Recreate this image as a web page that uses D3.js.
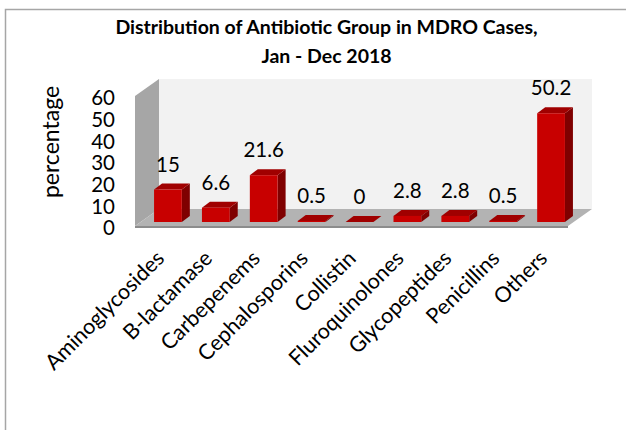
<!DOCTYPE html>
<html>
<head>
<meta charset="utf-8">
<script src="https://cdn.jsdelivr.net/npm/d3@7"></script>
<style>
  html, body { margin: 0; padding: 0; background: #fff; }
  svg { display: block; }
  text { font-family: Lato, "Open Sans", sans-serif; fill: #000; }
</style>
</head>
<body>
<div id="vis"></div>
<script>
var categories = ['Aminoglycosides', 'B-lactamase', 'Carbepenems', 'Cephalosporins', 'Collistin',
  'Fluroquinolones', 'Glycopeptides', 'Penicillins', 'Others'];
var values = [15, 6.6, 21.6, 0.5, 0, 2.8, 2.8, 0.5, 50.2];
var yTicks = [0, 10, 20, 30, 40, 50, 60];
var titleLines = ['Distribution of Antibiotic Group in MDRO Cases,', 'Jan - Dec 2018'];

var width = 626;
var height = 430;
var depthX = 24;   // wall depth
var depthY = 17;
var barDepthX = 8;
var barDepthY = 6;
var barLift = 4;   // bars stand a little behind the front edge of the floor

var svg = d3.select('#vis').append('svg')
  .attr('width', width)
  .attr('height', height);

// outer frame, only top and left are in the picture
svg.append('path')
  .attr('d', 'M5.5,430V9.5H626')
  .attr('fill', 'none')
  .attr('stroke', '#a6a6a6')
  .attr('stroke-width', 1.5);

var x = d3.scaleBand()
  .domain(categories)
  .range([144, 575])
  .paddingInner(0.42)
  .paddingOuter(0.21);

var y = d3.scaleLinear()
  .domain([0, 60])
  .range([226, 96]);

var x0 = 135;
var x1 = 568;
var y0 = y(0);
var yTop = y(60);

// back wall, side wall, floor
var walls = svg.append('g');
walls.append('polygon')
  .attr('points', [[x0 + depthX, yTop - depthY], [x1 + depthX, yTop - depthY], [x1 + depthX, y0 - depthY], [x0 + depthX, y0 - depthY]].join(' '))
  .attr('fill', '#f2f2f2');
walls.append('polygon')
  .attr('points', [[x0, yTop], [x0 + depthX, yTop - depthY], [x0 + depthX, y0 - depthY], [x0, y0]].join(' '))
  .attr('fill', '#a6a6a6');
walls.append('polygon')
  .attr('points', [[x0, y0], [x0 + depthX, y0 - depthY], [x1 + depthX, y0 - depthY], [x1, y0]].join(' '))
  .attr('fill', '#b3b3b3');
walls.append('rect')
  .attr('x', x0).attr('y', y0)
  .attr('width', x1 - x0).attr('height', 2)
  .attr('fill', '#8c8c8c');

// bars: side, top, front
var bars = svg.selectAll('.bar')
  .data(categories)
  .enter()
  .append('g')
  .attr('class', 'bar');

function barTop(d, i) { return y(values[i]) - barLift; }
function barBottom() { return y(0) - barLift; }

bars.append('polygon')
  .attr('fill', '#7f0000')
  .attr('points', function (d, i) {
    var r = x(d) + x.bandwidth();
    return [[r, barTop(d, i)], [r + barDepthX, barTop(d, i) - barDepthY],
      [r + barDepthX, barBottom() - barDepthY], [r, barBottom()]].join(' ');
  });
bars.append('polygon')
  .attr('fill', '#a00000')
  .attr('points', function (d, i) {
    var l = x(d), r = l + x.bandwidth(), t = barTop(d, i);
    return [[l, t], [l + barDepthX, t - barDepthY], [r + barDepthX, t - barDepthY], [r, t]].join(' ');
  });
bars.append('rect')
  .attr('fill', '#c80000')
  .attr('x', function (d) { return x(d); })
  .attr('y', barTop)
  .attr('width', x.bandwidth())
  .attr('height', function (d, i) { return barBottom() - barTop(d, i); });

// value labels
svg.selectAll('.value')
  .data(categories)
  .enter()
  .append('text')
  .attr('class', 'value')
  .attr('x', function (d) { return x(d) + x.bandwidth() / 2; })
  .attr('y', function (d, i) { return barTop(d, i) - 18; })
  .attr('text-anchor', 'middle')
  .attr('font-size', 20.5)
  .text(function (d, i) { return values[i]; });

// y axis labels
svg.selectAll('.ytick')
  .data(yTicks)
  .enter()
  .append('text')
  .attr('class', 'ytick')
  .attr('x', 115)
  .attr('y', function (d) { return y(d); })
  .attr('dy', '0.46em')
  .attr('text-anchor', 'end')
  .attr('font-size', 20.5)
  .text(function (d) { return d; });

svg.append('text')
  .attr('transform', 'translate(59,142) rotate(-90)')
  .attr('text-anchor', 'middle')
  .attr('font-size', 23)
  .text('percentage');

// category labels, 45 degrees, anchored at their end
svg.selectAll('.cat')
  .data(categories)
  .enter()
  .append('text')
  .attr('class', 'cat')
  .attr('text-anchor', 'end')
  .attr('font-size', 21.5)
  .attr('transform', function (d) {
    return 'translate(' + (x(d) + x.bandwidth() / 2 - 13) + ',249) rotate(-45)';
  })
  .attr('dy', '0.7em')
  .text(function (d) { return d; });

svg.selectAll('.title')
  .data(titleLines)
  .enter()
  .append('text')
  .attr('class', 'title')
  .attr('x', 326.5)
  .attr('y', function (d, i) { return 34 + i * 29; })
  .attr('text-anchor', 'middle')
  .attr('font-size', 19.5)
  .attr('font-weight', 700)
  .text(function (d) { return d; });
</script>
</body>
</html>
